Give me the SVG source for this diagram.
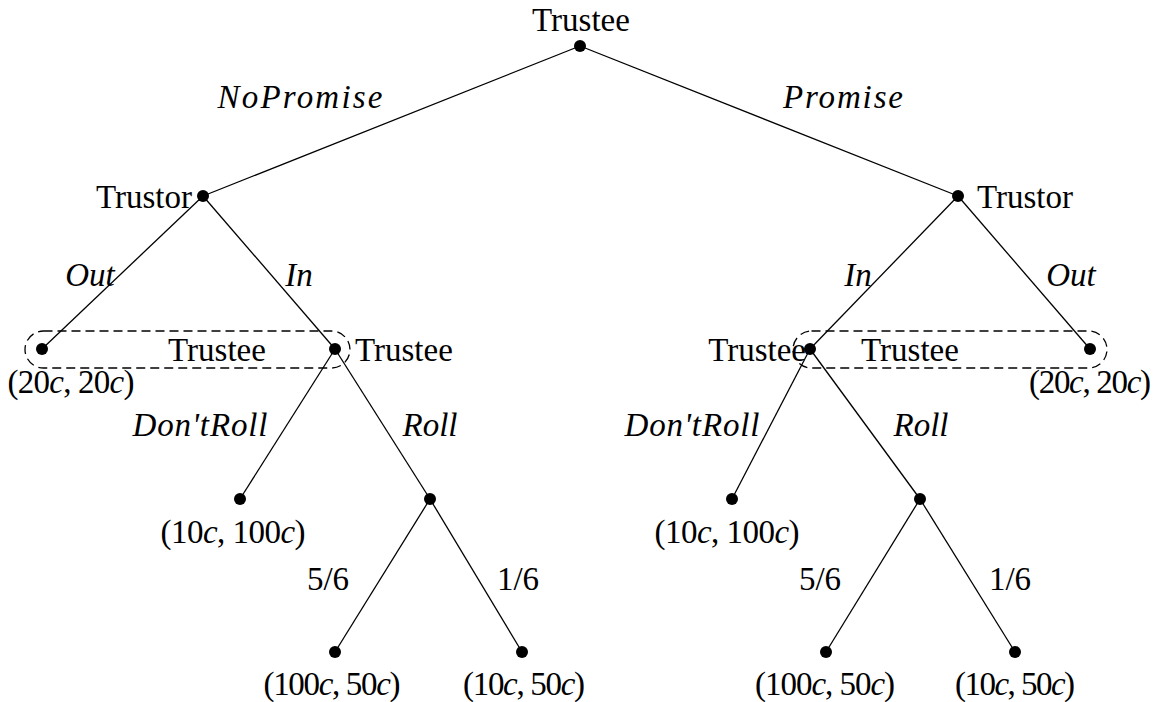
<svg xmlns="http://www.w3.org/2000/svg" width="1158" height="702" viewBox="0 0 1158 702">
<style>
text{font-family:"Liberation Serif","DejaVu Serif",serif;font-size:33px;fill:#000}
.it{font-style:italic}
.m{text-anchor:middle}
.e{text-anchor:end}
.edge{stroke:#000;stroke-width:1.3;fill:none}
.info{stroke:#000;stroke-width:1.3;fill:none;stroke-dasharray:9 5}
.dot{fill:#000}
</style>
<rect width="1158" height="702" fill="#fff"/>
<g id="connectors">
<line class="edge" x1="580" y1="46" x2="203" y2="196"/>
<line class="edge" x1="580" y1="46" x2="958" y2="196"/>
<line class="edge" x1="203" y1="196" x2="42" y2="349"/>
<line class="edge" x1="203" y1="196" x2="335" y2="349"/>
<line class="edge" x1="335" y1="349" x2="240" y2="499"/>
<line class="edge" x1="335" y1="349" x2="430" y2="499"/>
<line class="edge" x1="430" y1="499" x2="335" y2="652"/>
<line class="edge" x1="430" y1="499" x2="522" y2="652"/>
<line class="edge" x1="958" y1="196" x2="810" y2="349"/>
<line class="edge" x1="958" y1="196" x2="1090" y2="349"/>
<line class="edge" x1="810" y1="349" x2="732" y2="499"/>
<line class="edge" x1="810" y1="349" x2="920" y2="499"/>
<line class="edge" x1="920" y1="499" x2="826" y2="652"/>
<line class="edge" x1="920" y1="499" x2="1015" y2="652"/>
</g>
<g id="edge-labels">
<text class="it m" x="300" y="108" textLength="165">NoPromise</text>
<text class="it m" x="843" y="108" textLength="120">Promise</text>
<text class="it m" x="90" y="286">Out</text>
<text class="it m" x="299" y="286">In</text>
<text class="it m" x="858" y="286">In</text>
<text class="it m" x="1071" y="286">Out</text>
<text class="it m" x="200" y="436" textLength="135">Don'tRoll</text>
<text class="it m" x="430" y="436">Roll</text>
<text class="it m" x="692" y="436" textLength="135">Don'tRoll</text>
<text class="it m" x="921" y="436">Roll</text>
<text class="m" x="328" y="590">5/6</text>
<text class="m" x="518" y="590">1/6</text>
<text class="m" x="820" y="590">5/6</text>
<text class="m" x="1010" y="590">1/6</text>
</g>
<g id="info-sets">
<rect class="info" x="25" y="331" width="325" height="37" rx="18.5"/>
<rect class="info" x="793" y="331" width="314" height="37" rx="18.5"/>
<text class="m" x="217" y="361">Trustee</text>
<text class="m" x="910" y="361">Trustee</text>
</g>
<g id="root"><circle class="dot" cx="580" cy="46" r="6"/><text class="m" x="581" y="31">Trustee</text></g>
<g id="trustor-left"><circle class="dot" cx="203" cy="196" r="6"/><text class="e" x="192" y="208">Trustor</text></g>
<g id="trustor-right"><circle class="dot" cx="958" cy="196" r="6"/><text x="977" y="208">Trustor</text></g>
<g id="out-left"><circle class="dot" cx="42" cy="349" r="6"/><text class="m" x="71" y="393" textLength="127">(20<tspan class="it">c</tspan>, 20<tspan class="it">c</tspan>)</text></g>
<g id="trustee-left"><circle class="dot" cx="335" cy="349" r="6"/><text x="355" y="361">Trustee</text></g>
<g id="trustee-right"><circle class="dot" cx="810" cy="349" r="6"/><text class="e" x="806" y="361">Trustee</text></g>
<g id="out-right"><circle class="dot" cx="1090" cy="349" r="6"/><text class="m" x="1090" y="393" textLength="122">(20<tspan class="it">c</tspan>, 20<tspan class="it">c</tspan>)</text></g>
<g id="dontroll-left"><circle class="dot" cx="240" cy="499" r="6"/><text class="m" x="233" y="543" textLength="145">(10<tspan class="it">c</tspan>, 100<tspan class="it">c</tspan>)</text></g>
<g id="roll-left"><circle class="dot" cx="430" cy="499" r="6"/></g>
<g id="dontroll-right"><circle class="dot" cx="732" cy="499" r="6"/><text class="m" x="727" y="543" textLength="145">(10<tspan class="it">c</tspan>, 100<tspan class="it">c</tspan>)</text></g>
<g id="roll-right"><circle class="dot" cx="920" cy="499" r="6"/></g>
<g id="leaf-l1"><circle class="dot" cx="335" cy="652" r="6"/><text class="m" x="332" y="695" textLength="137">(100<tspan class="it">c</tspan>, 50<tspan class="it">c</tspan>)</text></g>
<g id="leaf-l2"><circle class="dot" cx="522" cy="652" r="6"/><text class="m" x="524" y="695" textLength="122">(10<tspan class="it">c</tspan>, 50<tspan class="it">c</tspan>)</text></g>
<g id="leaf-r1"><circle class="dot" cx="826" cy="652" r="6"/><text class="m" x="825" y="695" textLength="140">(100<tspan class="it">c</tspan>, 50<tspan class="it">c</tspan>)</text></g>
<g id="leaf-r2"><circle class="dot" cx="1015" cy="652" r="6"/><text class="m" x="1015" y="695" textLength="120">(10<tspan class="it">c</tspan>, 50<tspan class="it">c</tspan>)</text></g>
</svg>
